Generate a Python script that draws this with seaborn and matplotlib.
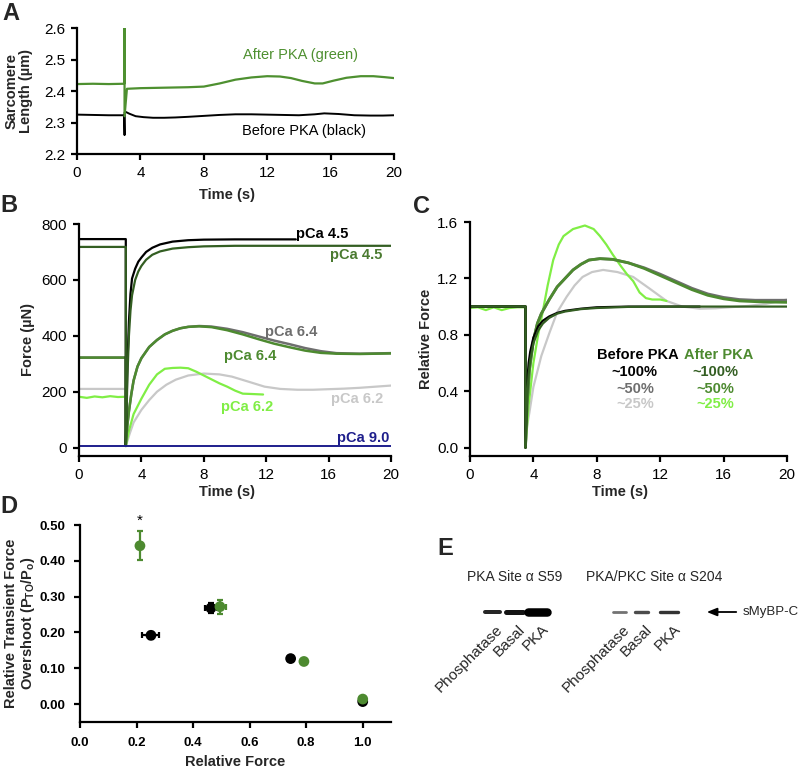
import numpy as np
import pandas as pd
import matplotlib
matplotlib.use("Agg")
import matplotlib.pyplot as plt
import seaborn as sns

# ---------------- DATA ----------------
# Panel A: sarcomere length (um)
a_black_t = [0, 1, 2, 2.98, 3.0, 3.0, 3.1, 3.3, 3.7, 4.2, 4.8, 5.5, 6.2, 7.0, 8.0, 9.0, 10.0, 11.0, 12.0, 13.0, 14.0, 15.0, 15.6, 16.5, 17.5, 18.5, 19.3, 20.0]
a_black_v = [2.325, 2.324, 2.323, 2.323, 2.26, 2.332, 2.333, 2.328, 2.32, 2.317, 2.315, 2.315, 2.316, 2.318, 2.321, 2.324, 2.326, 2.326, 2.325, 2.324, 2.323, 2.326, 2.329, 2.327, 2.323, 2.322, 2.322, 2.323]
a_green_t = [0, 1, 2, 2.98, 3.0, 3.0, 3.15, 4.0, 5.0, 6.0, 7.0, 8.0, 9.0, 10.0, 11.0, 12.0, 12.8, 13.5, 14.2, 15.0, 15.5, 16.2, 17.0, 17.9, 18.7, 19.4, 20.0]
a_green_v = [2.422, 2.423, 2.422, 2.423, 2.6, 2.32, 2.407, 2.409, 2.41, 2.411, 2.412, 2.414, 2.424, 2.436, 2.443, 2.447, 2.446, 2.441, 2.432, 2.424, 2.424, 2.433, 2.442, 2.447, 2.447, 2.444, 2.441]

# Panel B: force (uN)
b_k45_t = [0, 3, 3, 3.05, 3.1, 3.2, 3.3, 3.4, 3.6, 3.8, 4.0, 4.3, 4.7, 5.2, 6, 7, 8, 10, 12, 13.9]
b_k45_v = [746, 746, 10, 150, 290, 450, 550, 605, 640, 665, 680, 700, 715, 727, 737, 742, 744, 745, 745, 745]
b_g45_t = [0, 3, 3, 3.05, 3.1, 3.2, 3.3, 3.4, 3.6, 3.8, 4.0, 4.3, 4.7, 5.2, 6, 7, 8, 10, 12, 14, 16, 18, 20]
b_g45_v = [718, 718, 10, 120, 250, 400, 490, 545, 600, 630, 650, 672, 690, 702, 712, 717, 720, 722, 722, 722, 722, 722, 722]
b_64_t = [0, 3, 3, 3.1, 3.2, 3.35, 3.5, 3.75, 4, 4.5, 5, 5.5, 6, 6.5, 7, 7.7, 8.5, 9.5, 10.5, 11.5, 12.5, 13.5, 14.5, 15.5, 16.5, 18, 20]
b_k64_v = [322, 322, 10, 80, 130, 190, 240, 290, 320, 360, 385, 405, 418, 427, 432, 435, 433, 425, 413, 398, 383, 370, 356, 345, 338, 336, 338]
b_g64_v = [322, 322, 10, 80, 130, 190, 240, 290, 320, 360, 385, 405, 418, 427, 432, 434, 431, 420, 405, 388, 372, 359, 347, 339, 336, 335, 337]
b_k62_t = [0, 3, 3, 3.25, 3.5, 4, 4.5, 5, 5.6, 6.2, 7, 8, 9, 9.8, 10.8, 11.9, 12.9, 14, 15, 16, 17, 18, 19, 20]
b_k62_v = [210, 210, 5, 50, 90, 135, 170, 200, 225, 243, 258, 265, 262, 254, 237, 218, 210, 207, 207, 209, 211, 214, 218, 222]
b_g62_t = [0, 0.5, 1, 1.5, 2, 2.5, 3, 3, 3.2, 3.5, 4, 4.5, 5, 5.5, 6, 6.5, 7, 7.5, 8, 8.5, 9, 9.5, 10, 10.5, 11, 11.8]
b_g62_v = [182, 178, 183, 180, 184, 181, 182, 5, 60, 120, 175, 225, 262, 282, 285, 286, 284, 272, 258, 244, 230, 218, 204, 193, 192, 190]
b_90_t = [0, 5, 10, 15, 20]
b_90_v = [5, 5, 5, 5, 5]

# Panel C: relative force
c_k100_t = [0, 3.5, 3.5, 3.6, 3.7, 3.8, 4, 4.3, 4.6, 5, 5.5, 6, 7, 8, 10, 12, 14.5]
c_k100_v = [1, 1, 0, 0.45, 0.6, 0.68, 0.78, 0.86, 0.9, 0.93, 0.955, 0.97, 0.985, 0.995, 1.0, 1.0, 1.0]
c_g100_t = [0, 3.5, 3.5, 3.6, 3.7, 3.8, 4, 4.3, 4.6, 5, 5.5, 6, 7, 8, 10, 12, 14, 16, 18, 20]
c_g100_v = [1, 1, 0, 0.35, 0.52, 0.62, 0.74, 0.83, 0.88, 0.92, 0.95, 0.965, 0.982, 0.99, 0.998, 1, 1, 1, 1, 1]
c_50_t = [0, 3.5, 3.5, 3.6, 3.75, 4, 4.25, 4.5, 5, 5.5, 6, 6.5, 7, 7.5, 8.2, 9, 10, 11, 12, 13, 14, 15, 16, 17, 18, 19, 20]
c_k50_v = [1, 1, 0, 0.3, 0.55, 0.76, 0.88, 0.95, 1.05, 1.14, 1.2, 1.26, 1.3, 1.33, 1.34, 1.335, 1.31, 1.275, 1.23, 1.18, 1.13, 1.09, 1.065, 1.05, 1.045, 1.045, 1.045]
c_g50_v = [1, 1, 0, 0.3, 0.55, 0.76, 0.88, 0.95, 1.05, 1.14, 1.2, 1.26, 1.3, 1.33, 1.34, 1.335, 1.31, 1.27, 1.22, 1.17, 1.12, 1.08, 1.055, 1.04, 1.035, 1.032, 1.03]
c_k25_t = [0, 3.5, 3.5, 3.6, 3.75, 4, 4.5, 5, 5.5, 6.1, 6.6, 7.1, 7.7, 8.4, 9.3, 10.3, 11.3, 12.4, 13.4, 14.5, 15.5, 16.6, 17.6, 18.7, 20]
c_k25_v = [1, 1, 0, 0.15, 0.25, 0.43, 0.65, 0.81, 0.96, 1.07, 1.15, 1.21, 1.245, 1.26, 1.245, 1.21, 1.13, 1.04, 1.0, 0.985, 0.988, 0.997, 1.005, 1.02, 1.05]
c_g25_t = [0, 0.5, 1, 1.5, 2, 2.5, 3, 3.5, 3.5, 3.7, 4, 4.3, 4.6, 4.9, 5.25, 5.6, 5.9, 6.5, 7.25, 7.8, 8.2, 8.6, 9, 9.5, 9.9, 10.3, 10.7, 11.1, 11.5, 12, 12.4]
c_g25_v = [0.99, 0.995, 0.975, 0.995, 0.975, 0.99, 0.995, 0.995, 0.0, 0.3, 0.6, 0.8, 0.97, 1.15, 1.33, 1.44, 1.5, 1.55, 1.575, 1.55, 1.5, 1.44, 1.37, 1.29, 1.23, 1.18, 1.1, 1.06, 1.05, 1.05, 1.04]

# Panel D: overshoot vs relative force
d_before_x = [0.251, 0.463, 0.745, 1.0]
d_before_y = [0.192, 0.268, 0.127, 0.007]
d_before_xerr = [0.03, 0.02, 0.008, 0.0]
d_before_yerr = [0.01, 0.015, 0.006, 0.004]
d_after_x = [0.212, 0.495, 0.792, 1.0]
d_after_y = [0.442, 0.272, 0.119, 0.014]
d_after_xerr = [0.008, 0.02, 0.008, 0.0]
d_after_yerr = [0.04, 0.02, 0.006, 0.004]

# Panel E: western blot
e_lanes = ["Phosphatase", "Basal", "PKA"]
e_s59_intensity = [0.85, 0.92, 1.0]
e_s204_intensity = [0.55, 0.7, 0.8]

# ---------------- STYLE ----------------
sns.set_theme(style="ticks", rc={
    "axes.linewidth": 1.6, "xtick.major.width": 1.6, "ytick.major.width": 1.6,
    "xtick.major.size": 4.5, "ytick.major.size": 4.5,
    "xtick.major.pad": 4, "ytick.major.pad": 4,
    "axes.edgecolor": "black", "xtick.color": "black", "ytick.color": "black",
})
plt.rcParams['font.family'] = ['Liberation Sans', 'DejaVu Sans']
plt.rcParams['mathtext.fontset'] = 'custom'
plt.rcParams['mathtext.rm'] = 'Liberation Sans'
plt.rcParams['mathtext.bf'] = 'Liberation Sans:bold'

BLACK = "#000000"
DKGREEN = "#335e22"
GREEN = "#4d8a30"
GRAY = "#6e6e6e"
LTGRAY = "#c8c8c8"
LTGREEN = "#80ee45"
NAVY = "#1e1e8c"
AGREEN = "#4e9030"

W, H = 800, 770
fig = plt.figure(figsize=(8, 7.7), dpi=100)


def add_ax(left, right, top, bottom):
    return fig.add_axes([left / W, 1 - bottom / H, (right - left) / W, (bottom - top) / H])


def line(ax, t, v, color, lw=1.6):
    df = pd.DataFrame({"t": t, "v": v})
    sns.lineplot(data=df, x="t", y="v", ax=ax, color=color, lw=lw,
                 estimator=None, sort=False, legend=False)


TICK_FS = 11
LAB_FS = 10.5

# ---------------- PANEL A ----------------
axA = add_ax(77, 394, 28, 154)
line(axA, a_black_t, a_black_v, BLACK, 1.4)
line(axA, a_green_t, a_green_v, AGREEN, 1.6)
axA.set_xlim(0, 20)
axA.set_ylim(2.2, 2.6)
axA.set_xticks([0, 4, 8, 12, 16, 20])
axA.set_yticks([2.2, 2.3, 2.4, 2.5, 2.6])
axA.set_yticklabels(["2.2", "2.3", "2.4", "2.5", "2.6"])
axA.text(14.1, 2.514, "After PKA (green)", color=AGREEN, fontsize=10.5, ha="center", va="center")
axA.text(14.3, 2.274, "Before PKA (black)", color=BLACK, fontsize=10.5, ha="center", va="center")
axA.set_xlabel("Time (s)", fontsize=LAB_FS, fontweight="bold")
axA.set_ylabel("Sarcomere\nLength (µm)", fontsize=LAB_FS, fontweight="bold", linespacing=1.0)
axA.xaxis.set_label_coords(0.473, -0.27)
axA.yaxis.set_label_coords(-0.139, 0.5)

# ---------------- PANEL B ----------------
axB = add_ax(79, 391, 224, 456)
line(axB, b_k62_t, b_k62_v, LTGRAY)
line(axB, b_g62_t, b_g62_v, LTGREEN)
line(axB, b_64_t, b_k64_v, GRAY, 1.8)
line(axB, b_64_t, b_g64_v, GREEN, 1.8)
line(axB, b_k45_t, b_k45_v, BLACK, 1.6)
line(axB, b_g45_t, b_g45_v, DKGREEN, 1.6)
line(axB, b_90_t, b_90_v, NAVY, 1.4)
axB.set_xlim(0, 20)
axB.set_ylim(-30, 800)
axB.set_xticks([0, 4, 8, 12, 16, 20])
axB.set_yticks([0, 200, 400, 600, 800])
lb = dict(fontsize=10.5, fontweight="bold", ha="center", va="center")
axB.text(15.6, 763, "pCa 4.5", color=BLACK, **lb)
axB.text(17.8, 689, "pCa 4.5", color="#4a7a30", **lb)
axB.text(13.6, 413, "pCa 6.4", color=GRAY, **lb)
axB.text(11.0, 329, "pCa 6.4", color=GREEN, **lb)
axB.text(10.8, 144, "pCa 6.2", color=LTGREEN, **lb)
axB.text(17.8, 174, "pCa 6.2", color=LTGRAY, **lb)
axB.text(18.2, 36, "pCa 9.0", color=NAVY, **lb)
axB.set_xlabel("Time (s)", fontsize=LAB_FS, fontweight="bold")
axB.set_ylabel("Force (µN)", fontsize=LAB_FS, fontweight="bold")
axB.xaxis.set_label_coords(0.475, -0.125)
axB.yaxis.set_label_coords(-0.141, 0.5)

# ---------------- PANEL C ----------------
axC = add_ax(470, 787, 222, 456)
line(axC, c_k25_t, c_k25_v, LTGRAY)
line(axC, c_g25_t, c_g25_v, LTGREEN)
line(axC, c_50_t, c_k50_v, GRAY, 2.0)
line(axC, c_50_t, c_g50_v, GREEN, 2.0)
line(axC, c_k100_t, c_k100_v, BLACK, 1.6)
line(axC, c_g100_t, c_g100_v, DKGREEN, 1.6)
axC.set_xlim(0, 20)
axC.set_ylim(-0.06, 1.6)
axC.set_xticks([0, 4, 8, 12, 16, 20])
axC.set_yticks([0, 0.4, 0.8, 1.2, 1.6])
axC.set_yticklabels(["0.0", "0.4", "0.8", "1.2", "1.6"])
lc = dict(fontsize=10.5, fontweight="bold", ha="center", va="center")
axC.text(10.6, 0.654, "Before PKA", color=BLACK, **lc)
axC.text(15.7, 0.654, "After PKA", color=GREEN, **lc)
axC.text(10.4, 0.536, "~100%", color=BLACK, **lc)
axC.text(10.4, 0.418, "~50%", color=GRAY, **lc)
axC.text(10.4, 0.312, "~25%", color=LTGRAY, **lc)
axC.text(15.5, 0.536, "~100%", color=DKGREEN, **lc)
axC.text(15.5, 0.418, "~50%", color=GREEN, **lc)
axC.text(15.5, 0.312, "~25%", color=LTGREEN, **lc)
axC.set_xlabel("Time (s)", fontsize=LAB_FS, fontweight="bold")
axC.set_ylabel("Relative Force", fontsize=LAB_FS, fontweight="bold")
axC.xaxis.set_label_coords(0.473, -0.124)
axC.yaxis.set_label_coords(-0.117, 0.5)

for ax in (axA, axB, axC):
    sns.despine(ax=ax)
    ax.tick_params(labelsize=TICK_FS, direction="out")

# ---------------- PANEL D ----------------
axD = add_ax(80, 391, 525, 722)
axD.errorbar(d_before_x, d_before_y, xerr=d_before_xerr, yerr=d_before_yerr, fmt="none",
             ecolor=BLACK, elinewidth=1.6, capsize=2.5, capthick=1.6, zorder=2)
axD.errorbar(d_after_x, d_after_y, xerr=d_after_xerr, yerr=d_after_yerr, fmt="none",
             ecolor=GREEN, elinewidth=1.6, capsize=2.5, capthick=1.6, zorder=2)
dfd = pd.DataFrame({
    "x": d_before_x + d_after_x,
    "y": d_before_y + d_after_y,
    "g": ["Before"] * len(d_before_x) + ["After"] * len(d_after_x),
})
sns.scatterplot(data=dfd, x="x", y="y", hue="g", palette={"Before": BLACK, "After": GREEN},
                s=60, edgecolor="none", legend=False, ax=axD, zorder=3)
axD.text(d_after_x[0], 0.513, "*", fontsize=11, ha="center", va="center", color="black")
axD.set_xlim(0, 1.1)
axD.set_ylim(-0.05, 0.5)
axD.set_xticks([0, 0.2, 0.4, 0.6, 0.8, 1.0])
axD.set_xticklabels(["0.0", "0.2", "0.4", "0.6", "0.8", "1.0"])
axD.set_yticks([0, 0.1, 0.2, 0.3, 0.4, 0.5])
axD.set_yticklabels(["0.00", "0.10", "0.20", "0.30", "0.40", "0.50"])
sns.despine(ax=axD)
axD.tick_params(labelsize=9.5, direction="out", pad=6)
for lab in axD.get_xticklabels() + axD.get_yticklabels():
    lab.set_fontweight("bold")
axD.set_xlabel("Relative Force", fontsize=LAB_FS, fontweight="bold")
axD.set_ylabel("Relative Transient Force\nOvershoot (P$_{\\mathbf{TO}}$/P$_{\\mathbf{o}}$)",
               fontsize=LAB_FS, fontweight="bold", linespacing=1.1)
axD.xaxis.set_label_coords(0.5, -0.1675)
axD.yaxis.set_label_coords(-0.138, 0.5)

# ---------------- PANEL E ----------------
axE = add_ax(400, 800, 530, 700)
axE.set_xlim(400, 800)
axE.set_ylim(700, 530)
axE.axis("off")
band_y = 612
s59_x = [492, 514, 537]
s59_w = [15, 17, 19]
s59_h = [4.0, 5.0, 8.5]
s204_x = [619, 641, 669]
s204_w = [13, 13, 18]
s204_h = [2.8, 3.4, 3.4]
for xs, ws, hs, inten in ((s59_x, s59_w, s59_h, e_s59_intensity),
                          (s204_x, s204_w, s204_h, e_s204_intensity)):
    for xc, w, h, it in zip(xs, ws, hs, inten):
        axE.plot([xc - w / 2, xc + w / 2], [band_y, band_y], color="black", alpha=it,
                 lw=h * 0.72, solid_capstyle="round")
for xs in (s59_x, s204_x):
    for xc, name in zip(xs, e_lanes):
        axE.text(xc + 4, 622, name, rotation=45, rotation_mode="anchor", ha="right", va="top",
                 fontsize=11)
axE.text(515, 577, "PKA Site α S59", fontsize=10, ha="center", va="center")
axE.text(654, 577, "PKA/PKC Site α S204", fontsize=10, ha="center", va="center")
axE.annotate("", xy=(704, band_y), xytext=(739, band_y),
             arrowprops=dict(arrowstyle="-|>,head_length=0.5,head_width=0.2", color="black", lw=1.3))
axE.text(743, band_y, "sMyBP-C", fontsize=9.5, ha="left", va="center")

# ---------------- PANEL LETTERS ----------------
for letter, px, py in (("A", 2, 20), ("B", 0, 212), ("C", 413, 213), ("D", 0, 513), ("E", 437, 555)):
    fig.text(px / W, 1 - py / H, letter, fontsize=17, fontweight="bold", ha="left", va="baseline")

fig.savefig("out.png", dpi=100)
